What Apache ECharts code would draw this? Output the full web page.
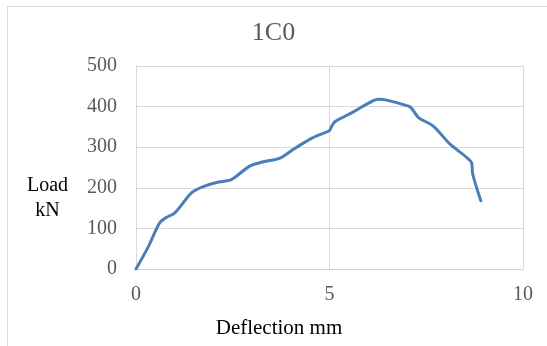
<!DOCTYPE html>
<html>
<head>
<meta charset="utf-8">
<script src="https://cdn.jsdelivr.net/npm/echarts@6/dist/echarts.min.js"></script>
<style>html,body{margin:0;padding:0;background:#fff}#c{width:547px;height:346px}</style>
</head>
<body>
<div id="c"></div>
<script>
var deflection = [0, 0.32, 0.60, 0.75, 1.01, 1.44, 1.74, 2.08, 2.43, 2.56, 2.95, 3.29, 3.72, 4.07, 4.50, 4.75, 5.00, 5.06, 5.14, 5.62, 5.96, 6.26, 6.48, 7.04, 7.12, 7.30, 7.68, 8.11, 8.54, 8.67, 8.70, 8.91];
var load = [0, 55, 112, 125, 139, 188, 203, 213, 219, 226, 254, 264, 273, 295, 320, 331, 341, 352, 363, 387, 406, 418, 416, 401, 396, 373, 352, 308, 275, 262, 234, 168];
var chartTitle = '1C0';
var xTitle = 'Deflection mm';
var yTitle = ['Load', 'kN'];

var FONT = '"Liberation Serif", "Times New Roman", serif';
var pts = deflection.map(function (d, i) { return [d, load[i]]; });
var chart = echarts.init(document.getElementById('c'));
chart.setOption({
  animation: false,
  backgroundColor: '#fff',
  grid: { left: 136, right: 24, top: 66, bottom: 77 },
  xAxis: {
    type: 'value', min: 0, max: 10, interval: 5,
    axisLine: { show: true, lineStyle: { color: '#d0d0d0', width: 1 } },
    axisTick: { show: false },
    axisLabel: { margin: 16, color: '#595959', fontFamily: FONT, fontSize: 20 },
    splitLine: { show: true, lineStyle: { color: '#d9d9d9', width: 1 } }
  },
  yAxis: {
    type: 'value', min: 0, max: 500, interval: 100,
    axisLine: { show: true, lineStyle: { color: '#d9d9d9', width: 1 } },
    axisTick: { show: false },
    axisLabel: { margin: 19, color: '#595959', fontFamily: FONT, fontSize: 20 },
    splitLine: { show: true, lineStyle: { color: '#d9d9d9', width: 1 } }
  },
  graphic: [
    { type: 'rect', silent: true, shape: { x: 7.5, y: 6.5, width: 700, height: 500 }, style: { fill: 'none', stroke: '#d9d9d9', lineWidth: 1 } },
    { type: 'text', x: 273.5, y: 33, style: { text: chartTitle, font: '26px ' + FONT, fill: '#595959', align: 'center', verticalAlign: 'middle' } },
    { type: 'text', x: 279, y: 328, style: { text: xTitle, font: '21px ' + FONT, fill: '#000', align: 'center', verticalAlign: 'middle' } },
    { type: 'text', x: 47.5, y: 186, style: { text: yTitle[0], font: '20px ' + FONT, fill: '#000', align: 'center', verticalAlign: 'middle' } },
    { type: 'text', x: 47.5, y: 211, style: { text: yTitle[1], font: '20px ' + FONT, fill: '#000', align: 'center', verticalAlign: 'middle' } }
  ],
  series: [{
    type: 'line', data: pts, smooth: 0.3, showSymbol: false,
    lineStyle: { color: '#4a7ebb', width: 3, cap: 'round', join: 'round' }
  }]
});
</script>
</body>
</html>
